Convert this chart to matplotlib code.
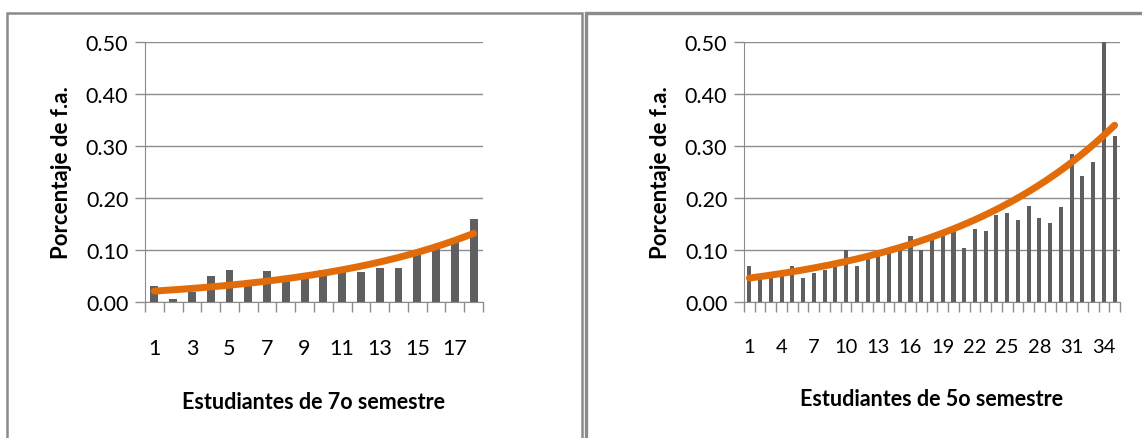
import numpy as np
import matplotlib.pyplot as plt
from matplotlib.patches import Rectangle
from matplotlib.ticker import FixedLocator, FormatStrFormatter

plt.rcParams['font.family'] = ['Lato', 'DejaVu Sans']

# 7o semestre
vals7 = [0.030, 0.005, 0.020, 0.050, 0.062, 0.030, 0.059, 0.040, 0.045,
         0.062, 0.057, 0.058, 0.065, 0.065, 0.090, 0.102, 0.115, 0.159]
# 5o semestre
vals5 = [0.070, 0.045, 0.047, 0.050, 0.070, 0.047, 0.056, 0.062, 0.068,
         0.100, 0.070, 0.082, 0.088, 0.094, 0.100, 0.127, 0.100, 0.120,
         0.127, 0.136, 0.103, 0.140, 0.136, 0.168, 0.171, 0.158, 0.185,
         0.162, 0.152, 0.182, 0.285, 0.242, 0.269, 0.500, 0.319]

# exponential trend lines as drawn (value at first and last student)
trend7 = [0.021, 0.132]
trend5 = [0.046, 0.340]

xlab7 = "Estudiantes de 7o semestre"
xlab5 = "Estudiantes de 5o semestre"
ylab = "Porcentaje de f.a."

bar_c = "#5f5f5f"
trend_c = "#e36c0a"
grid_c = "#8c8c8c"

fig = plt.figure(figsize=(11.42, 4.39), dpi=100)

# panel frames
fig.patches.append(Rectangle((7/1142, -0.1), (582-7)/1142, 1.1 - 14/439,
                             transform=fig.transFigure, fill=False,
                             edgecolor="#8a8a8a", lw=1.8))
fig.patches.append(Rectangle((586/1142, -0.1), 0.5, 1.1 - 14/439,
                             transform=fig.transFigure, fill=False,
                             edgecolor="#8a8a8a", lw=2.4))


def panel(rect, vals, trend, step, xlabel, barw, xfs):
    ax = fig.add_axes(rect)
    n = len(vals)
    x = np.arange(1, n + 1)
    ax.bar(x, vals, width=barw, color=bar_c, zorder=2)
    # exponential trend through the read start/end values
    t = np.linspace(1, n, 200)
    k = np.log(trend[1] / trend[0]) / (n - 1)
    ax.plot(t, trend[0] * np.exp(k * (t - 1)), color=trend_c, lw=5,
            solid_capstyle='round', zorder=3)
    ax.set_xlim(0.5, n + 0.5)
    ax.set_ylim(0, 0.5)
    ax.set_yticks(np.arange(0, 0.51, 0.1))
    ax.yaxis.set_major_formatter(FormatStrFormatter('%.2f'))
    ax.set_xticks(x[::step])
    ax.xaxis.set_minor_locator(FixedLocator(np.arange(0.5, n + 1, 1)))
    ax.tick_params(axis='x', which='major', length=0, pad=26, labelsize=xfs)
    ax.tick_params(axis='x', which='minor', length=7, color=grid_c, width=1)
    ax.tick_params(axis='y', length=7, color=grid_c, width=1, labelsize=15.5, pad=5)
    ax.grid(axis='y', color=grid_c, lw=1, zorder=0)
    ax.set_axisbelow(True)
    for s in ['top', 'right']:
        ax.spines[s].set_visible(False)
    for s in ['left', 'bottom']:
        ax.spines[s].set_color(grid_c)
    ax.set_xlabel(xlabel, fontsize=15.5, fontweight='bold', labelpad=24)
    ax.set_ylabel(ylab, fontsize=16, fontweight='bold', labelpad=10)
    return ax


panel([145/1142, 1 - 303/439, 338/1142, 260/439], vals7, trend7, 2, xlab7, 0.42, 15.5)
panel([744/1142, 1 - 303/439, 376/1142, 260/439], vals5, trend5, 3, xlab5, 0.38, 14.5)

fig.savefig("out.png", dpi=100)
